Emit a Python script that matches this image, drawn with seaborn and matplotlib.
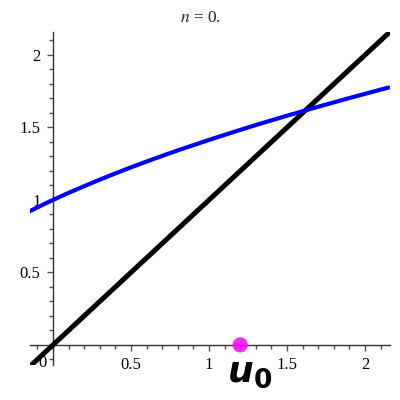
import matplotlib
matplotlib.use("Agg")
import matplotlib.pyplot as plt
import seaborn as sns
import pandas as pd
from matplotlib.ticker import MultipleLocator, FixedLocator

sns.set_theme(style="white")
plt.rcParams['font.family'] = ['Liberation Serif', 'DejaVu Serif']

# data
blue_x = [-0.15, -0.05, 0.0, 0.1, 0.2, 0.3, 0.4, 0.5, 0.6, 0.7, 0.8, 0.9, 1.0,
          1.1, 1.2, 1.3, 1.4, 1.5, 1.6, 1.7, 1.8, 1.9, 2.0, 2.1, 2.15]
blue_y = [0.922, 0.975, 1.0, 1.049, 1.095, 1.140, 1.183, 1.225, 1.265, 1.304,
          1.342, 1.378, 1.414, 1.449, 1.483, 1.517, 1.549, 1.581, 1.612, 1.643,
          1.673, 1.703, 1.732, 1.761, 1.775]
black_x = [-0.15, 2.15]
black_y = [-0.15, 2.15]
point_x = [1.2]
point_y = [0.0]
x_ticks = [0.5, 1.0, 1.5, 2.0]
x_labels = ["0.5", "1", "1.5", "2"]
y_ticks = [0.5, 1.0, 1.5, 2.0]
y_labels = ["0.5", "1", "1.5", "2"]

blue_df = pd.DataFrame({"x": blue_x, "y": blue_y})
black_df = pd.DataFrame({"x": black_x, "y": black_y})
pt_df = pd.DataFrame({"x": point_x, "y": point_y})

fig = plt.figure(figsize=(4, 4), dpi=100)
ax = fig.add_axes([0.074, 0.087, 0.901, 0.8335])

sns.lineplot(data=black_df, x="x", y="y", ax=ax, color="black", linewidth=3.6, zorder=3)
sns.lineplot(data=blue_df, x="x", y="y", ax=ax, color="#0000ff", linewidth=3.0, zorder=4)
sns.scatterplot(data=pt_df, x="x", y="y", ax=ax, color="#ff00ff", s=120, edgecolor="none",
                alpha=0.85, zorder=5, clip_on=False)

ax.set_xlim(-0.15, 2.16)
ax.set_ylim(-0.14, 2.16)
ax.set_xlabel("")
ax.set_ylabel("")

for s in ["top", "right"]:
    ax.spines[s].set_visible(False)
ax.spines["left"].set_position(("data", 0))
ax.spines["bottom"].set_position(("data", 0))
for s in ["left", "bottom"]:
    ax.spines[s].set_color("#333333")
    ax.spines[s].set_linewidth(1.0)

ax.xaxis.set_major_locator(FixedLocator(x_ticks))
ax.set_xticklabels(x_labels)
ax.yaxis.set_major_locator(FixedLocator(y_ticks))
ax.set_yticklabels(y_labels)
ax.xaxis.set_minor_locator(MultipleLocator(0.1))
ax.yaxis.set_minor_locator(MultipleLocator(0.1))
ax.tick_params(axis="x", which="both", bottom=True, top=False)
ax.tick_params(axis="y", which="both", left=True, right=False)
ax.tick_params(which="major", direction="out", length=4, width=1, color="#555555",
               labelsize=12, labelcolor="black", pad=5)
ax.tick_params(which="minor", direction="out", length=3, width=1, color="#555555")

ax.text(-0.065, -0.124, "0", fontsize=12, ha="center", va="center", color="black")

fig.text(0.5, 0.955, r"$n$ = 0.", ha="center", va="center", fontsize=12.5,
         family=['Liberation Serif'], math_fontfamily="stix")

# u_0 label
ax.text(1.205, -0.255, "u", fontsize=26, fontweight="bold", fontstyle="italic",
        family=["DejaVu Sans"], ha="center", va="baseline", color="black")
ax.text(1.348, -0.297, "0", fontsize=19, fontweight="bold",
        family=["DejaVu Sans"], ha="center", va="baseline", color="black")

fig.savefig("out.png", dpi=100)
